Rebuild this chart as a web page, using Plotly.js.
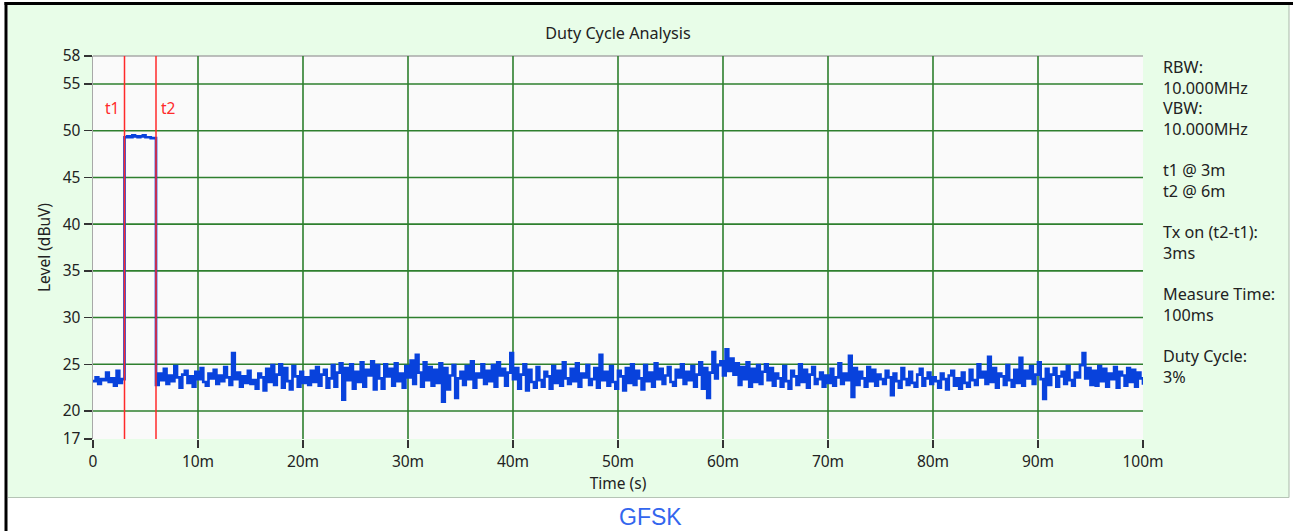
<!DOCTYPE html>
<html>
<head>
<meta charset="utf-8">
<script src="https://cdn.plot.ly/plotly-3.0.1.min.js"></script>
<style>html,body{margin:0;padding:0;background:#fff;}#chart{width:1293px;height:531px;}</style>
</head>
<body>
<div id="chart"></div>
<script>
// ---- data ----
const chartTitle = 'Duty Cycle Analysis';
const xTitle = 'Time (s)';
const yTitle = 'Level (dBuV)';
const bottomLabel = 'GFSK';
const sampleStepMs = 0.25;
const level = [
  23.2, 23.6, 22.9, 23.4, 23.3, 24.1, 23.1, 23.5, 22.7, 24.3, 23.0, 23.4,
  49.3, 49.4, 49.3, 49.5, 49.4, 49.3, 49.4, 49.5, 49.3, 49.3, 49.2, 49.2,
  22.8, 24.0, 23.3, 24.5, 22.9, 23.8, 23.2, 24.8, 23.6, 22.5, 23.9, 24.3, 23.0, 23.7, 22.6, 24.2, 23.4,
  24.6, 23.1, 22.7, 24.0, 23.5, 24.4, 22.9, 23.8, 23.2, 24.7, 23.6, 22.8, 26.2, 23.4, 24.1, 22.6, 23.7, 23.0, 24.3, 22.9,
  23.3, 22.4, 24.0, 23.6, 22.2, 24.5, 23.1, 24.9, 22.8, 23.9, 25.0, 22.5, 24.6, 23.2, 22.3, 24.8, 23.7, 22.6, 24.2, 23.0,
  23.6, 22.8, 24.3, 23.1, 24.7, 22.7, 23.9, 24.4, 22.5, 23.5, 24.9, 22.6, 24.1, 25.1, 21.2, 24.6, 23.3, 25.0, 22.4, 24.2,
  23.1, 25.2, 22.6, 24.4, 23.8, 25.3, 22.3, 24.9, 23.5, 22.4, 25.0, 23.7, 24.5, 22.7, 25.1, 23.2, 24.0, 22.5, 24.8, 23.6,
  25.4, 22.9, 26.0, 24.1, 22.6, 25.2, 23.3, 24.7, 22.7, 24.4, 23.0, 25.1, 21.0, 24.6, 22.3, 23.8, 24.9, 21.4, 23.5, 24.2,
  22.8, 24.8, 23.4, 25.3, 22.5, 24.0, 23.6, 25.0, 22.9, 24.3, 23.2, 24.9, 22.6, 25.2, 23.8, 24.5, 22.7, 24.1, 26.2, 23.4,
  24.6, 22.4, 23.9, 25.0, 22.2, 24.4, 23.1, 22.5, 24.7, 23.3, 22.6, 24.2, 23.7, 22.4, 24.8, 23.0, 24.3, 22.7, 25.2, 23.5,
  22.9, 24.5, 23.2, 25.1, 22.6, 24.0, 23.6, 24.9, 22.8, 23.4, 24.6, 22.5, 26.0, 23.3, 24.2, 22.7, 24.8, 23.1, 22.4, 24.3,
  23.7, 22.2, 24.6, 23.0, 25.0, 22.8, 24.3, 23.5, 22.3, 24.9, 23.2, 24.1, 22.6, 25.1, 23.4, 24.5, 22.9, 23.8, 24.7, 23.1,
  22.7, 24.4, 23.6, 25.0, 22.9, 24.2, 23.3, 24.8, 22.6, 23.9, 25.2, 22.4, 24.6, 21.4, 24.1, 26.3, 23.5, 24.9, 25.3, 23.8,
  26.6, 24.3, 25.6, 23.9, 25.1, 22.8, 24.7, 23.4, 25.2, 22.6, 24.5, 23.1, 24.9, 22.9, 24.2, 25.0, 23.3, 24.6, 22.7, 24.0,
  23.5, 22.6, 24.8, 23.2, 22.4, 24.3, 23.7, 22.8, 25.0, 23.1, 24.4, 22.5, 23.9, 24.7, 22.9, 23.4, 24.1, 22.6, 23.8, 23.0,
  24.5, 22.7, 23.6, 25.1, 22.9, 24.0, 23.3, 25.9, 21.5, 24.6, 22.8, 24.2, 23.5, 22.6, 24.7, 23.2, 24.4, 22.7, 23.9, 23.4,
  22.9, 24.3, 23.6, 21.7, 24.0, 23.2, 22.5, 24.6, 23.4, 22.8, 24.2, 23.0, 22.6, 23.9, 24.5, 22.7, 23.5, 24.1, 22.9, 23.6,
  23.2, 22.5, 24.0, 23.4, 22.3, 23.8, 24.3, 22.7, 23.5, 22.4, 24.1, 23.0, 22.6, 24.4, 23.3, 22.8, 25.0, 23.6, 24.2, 22.9,
  25.8, 23.1, 24.6, 22.5, 24.0, 23.7, 22.8, 24.9, 23.3, 22.6, 24.4, 23.0, 25.7, 22.7, 24.3, 23.5, 24.8, 22.9, 23.9, 25.2,
  23.4, 21.3, 24.5, 22.8, 23.9, 24.6, 22.6, 23.7, 24.2, 22.9, 24.8, 23.3, 22.7, 24.1, 23.6, 24.9, 26.2, 23.5, 24.6, 22.8,
  24.3, 22.7, 24.8, 23.2, 24.5, 22.6, 24.0, 23.4, 24.7, 22.5, 24.2, 23.8, 22.7, 24.6, 23.1, 24.4, 22.6, 24.1, 23.5, 22.8
];
const cursorNames = ['t1', 't2'];
const cursorTimes = [3, 6];
const xRange = [0, 100];
const yRange = [17, 58];
const xTickVals = [0, 10, 20, 30, 40, 50, 60, 70, 80, 90, 100];
const xTickText = ['0', '10m', '20m', '30m', '40m', '50m', '60m', '70m', '80m', '90m', '100m'];
const yTickVals = [17, 20, 25, 30, 35, 40, 45, 50, 55, 58];
const yTickText = ['17', '20', '25', '30', '35', '40', '45', '50', '55', '58'];
const xGridVals = [10, 20, 30, 40, 50, 60, 70, 80, 90];
const yGridVals = [20, 25, 30, 35, 40, 45, 50, 55];
const infoText = ['RBW:', '10.000MHz', 'VBW:', '10.000MHz', '', 't1 @ 3m', 't2 @ 6m', '',
  'Tx on (t2-t1):', '3ms', '', 'Measure Time:', '100ms', '', 'Duty Cycle:', '3%'];

// ---- layout helpers ----
const W = 1293, H = 531;
const M = {l: 93, r: 150, t: 56, b: 92};
const PW = W - M.l - M.r, PH = H - M.t - M.b;
const px2x = px => (px - M.l) / PW;
const py2y = py => (H - M.b - py) / PH;
const FONT = '"Noto Sans", "Open Sans", sans-serif';
const TXT = '#222222';
const GRID = '#2E7F2E';

const time = level.map((_, i) => i * sampleStepMs);

const traces = [{
  type: 'scatter', mode: 'lines', x: time, y: level,
  line: {color: '#0842DC', width: 2.7, shape: 'hv'},
  hoverinfo: 'x+y', showlegend: false
}];
cursorTimes.forEach((t, i) => {
  traces.push({
    type: 'scatter', mode: 'lines', x: [t, t], y: yRange,
    line: {color: '#FF2A2A', width: 1.5}, name: cursorNames[i], showlegend: false
  });
});

const shapes = [
  {type: 'rect', xref: 'paper', yref: 'paper', x0: px2x(8), x1: px2x(1289), y0: py2y(497.5), y1: py2y(5),
   fillcolor: '#E8FDE8', line: {width: 0}, layer: 'below'},
  {type: 'line', xref: 'paper', yref: 'paper', x0: px2x(1289), x1: px2x(1289), y0: py2y(497.5), y1: py2y(5),
   line: {color: '#B5C4B5', width: 1.2}, layer: 'below'},
  {type: 'line', xref: 'paper', yref: 'paper', x0: px2x(8), x1: px2x(1289), y0: py2y(497.5), y1: py2y(497.5),
   line: {color: '#B5C4B5', width: 1.2}, layer: 'below'},
  {type: 'rect', xref: 'paper', yref: 'paper', x0: 0, x1: 1, y0: 0, y1: 1,
   fillcolor: '#FAFAFA', line: {width: 0}, layer: 'below'},
  {type: 'line', xref: 'paper', yref: 'paper', x0: 0, x1: 1, y0: 1, y1: 1,
   line: {color: '#A8A8A8', width: 1.5}, layer: 'below'},
  {type: 'line', xref: 'paper', yref: 'paper', x0: px2x(4.5), x1: px2x(1293), y0: py2y(3.5), y1: py2y(3.5),
   line: {color: '#000000', width: 3}, layer: 'above'},
  {type: 'line', xref: 'paper', yref: 'paper', x0: px2x(6), x1: px2x(6), y0: py2y(531), y1: py2y(2),
   line: {color: '#000000', width: 3}, layer: 'above'}
];
xGridVals.forEach(v => shapes.push({type: 'line', xref: 'x', yref: 'paper', x0: v, x1: v, y0: 0, y1: 1,
  line: {color: GRID, width: 1.6}, layer: 'below'}));
yGridVals.forEach(v => shapes.push({type: 'line', xref: 'paper', yref: 'y', x0: 0, x1: 1, y0: v, y1: v,
  line: {color: GRID, width: 1.6}, layer: 'below'}));

const annotations = [];
cursorTimes.forEach((t, i) => annotations.push({
  xref: 'x', yref: 'y', x: t, y: 52.4, text: cursorNames[i], showarrow: false,
  xanchor: i === 0 ? 'right' : 'left', xshift: i === 0 ? -4 : 3,
  font: {family: FONT, size: 15.5, color: '#FF2A2A'}
}));
infoText.forEach((s, k) => {
  if (!s) return;
  annotations.push({xref: 'paper', yref: 'paper', x: px2x(1161), y: py2y(67 + k * 20.64),
    xanchor: 'left', yanchor: 'middle', text: s, showarrow: false,
    font: {family: FONT, size: 16.2, color: TXT}});
});
annotations.push({xref: 'paper', yref: 'paper', x: px2x(650), y: py2y(517), xanchor: 'center', yanchor: 'middle',
  text: bottomLabel, showarrow: false, font: {family: 'Liberation Sans, Arial, sans-serif', size: 23, color: '#3366EE'}});

const layout = {
  width: W, height: H, margin: M,
  paper_bgcolor: '#FFFFFF', plot_bgcolor: 'rgba(0,0,0,0)',
  font: {family: FONT, size: 15, color: TXT},
  title: {text: chartTitle, x: 0.5, xref: 'paper', xanchor: 'center', y: 1 - 33 / H, yanchor: 'middle',
          font: {family: FONT, size: 16.2, color: TXT}},
  xaxis: {range: xRange, tickmode: 'array', tickvals: xTickVals, ticktext: xTickText,
          ticks: 'outside', ticklen: 8, tickwidth: 1.5, tickcolor: '#333333',
          showgrid: false, zeroline: false, showline: false, fixedrange: true,
          tickfont: {family: FONT, size: 15.5, color: TXT},
          title: {text: xTitle, standoff: 5, font: {family: FONT, size: 15.5, color: TXT}}},
  yaxis: {range: yRange, tickmode: 'array', tickvals: yTickVals, ticktext: yTickText,
          ticks: 'outside', ticklen: 8, tickwidth: 1.5, tickcolor: '#333333',
          showgrid: false, zeroline: false, showline: true, linecolor: '#A8A8A8', linewidth: 1.5, fixedrange: true,
          tickfont: {family: FONT, size: 15.5, color: TXT},
          title: {text: yTitle, standoff: 8, font: {family: FONT, size: 15.5, color: TXT}}},
  shapes: shapes,
  annotations: annotations,
  showlegend: false
};

Plotly.newPlot('chart', traces, layout, {displayModeBar: false, staticPlot: true});
</script>
</body>
</html>
